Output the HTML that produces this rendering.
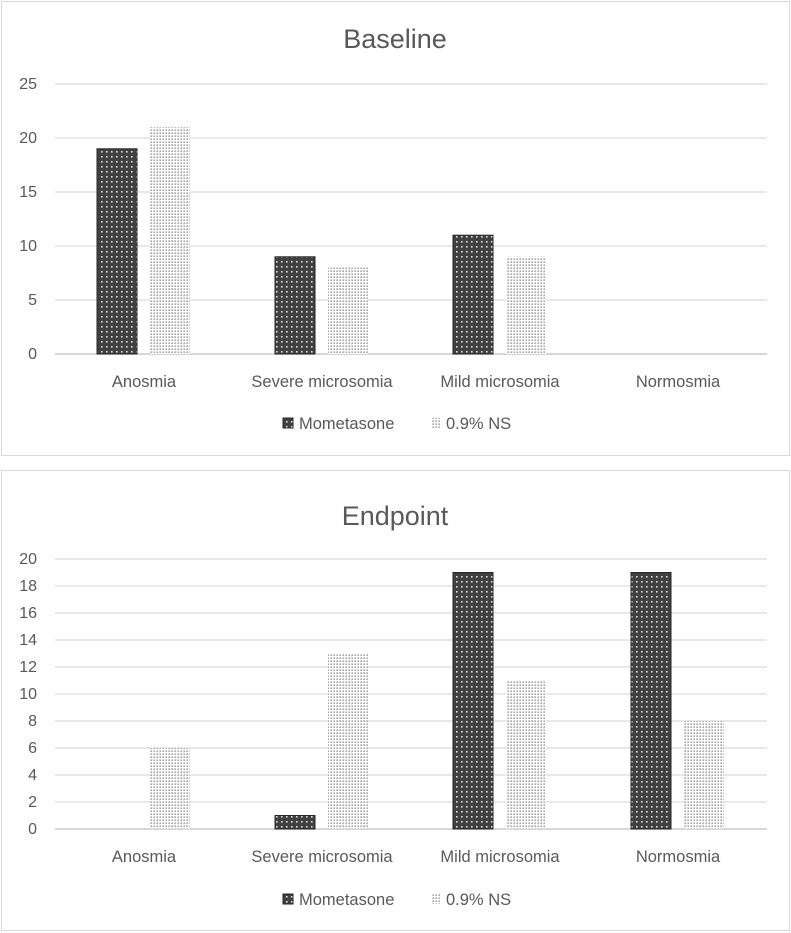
<!DOCTYPE html>
<html><head><meta charset="utf-8"><style>
body{margin:0;background:#fff;}
svg{display:block;font-family:"Liberation Sans",sans-serif;}
</style></head><body>
<svg id="s" width="791" height="933">
<defs>
<pattern id="pm" width="5" height="5" patternUnits="userSpaceOnUse"><rect width="5" height="5" fill="#404040"/><rect x="1" y="1" width="1.6" height="1.6" fill="#e0e0e0"/></pattern>
<pattern id="pn" width="3" height="3" patternUnits="userSpaceOnUse"><rect width="3" height="3" fill="#fff"/><rect x="0.5" y="0.5" width="1.3" height="1.3" fill="#777"/></pattern>
</defs>
</svg>
<script>
const categories=["Anosmia","Severe microsomia","Mild microsomia","Normosmia"];
const baseMom=[19,9,11,0];
const baseNS=[21,8,9,0];
const endMom=[0,1,19,19];
const endNS=[6,13,11,8];
const baseTicks=[0,5,10,15,20,25];
const endTicks=[0,2,4,6,8,10,12,14,16,18,20];
const NS="http://www.w3.org/2000/svg";
const svg=document.getElementById('s');
function mk(tag,attrs,parent){const e=document.createElementNS(NS,tag);for(const k in attrs)e.setAttribute(k,attrs[k]);(parent||svg).appendChild(e);return e;}
function chart(cfg){
  const g=mk('g',{});
  
  
  const box=mk('rect',{x:1.5,y:cfg.top+0.5,width:788,height:cfg.h,fill:'#fff',stroke:'#d9d9d9'},g);
  
  
  const t=mk('text',{x:395,y:cfg.titleY,'text-anchor':'middle','font-size':27,fill:'#595959'},g);t.textContent=cfg.title;
  
  
  const x0=55,x1=767,max=cfg.ticks[cfg.ticks.length-1];
  const y=v=>cfg.y0-(cfg.y0-cfg.yTop)*v/max;
  cfg.ticks.forEach(v=>{
    const l=mk('line',{x1:x0,x2:x1,y1:y(v),y2:y(v),stroke:v===0?'#bfbfbf':'#d9d9d9','stroke-width':1.3},g);
    
    
    const tx=mk('text',{x:cfg.labX,y:y(v)+5,'text-anchor':'end','font-size':16,fill:'#595959'},g);tx.textContent=v;
    
    
  });
  const cw=(x1-x0)/categories.length;
  categories.forEach((c,i)=>{
    const cx=x0+cw*(i+0.5);
    [[cfg.mom,'url(#pm)','#262626',cx-47],[cfg.ns,'url(#pn)','none',cx+6]].forEach((s,k)=>{
      const v=s[0][i];
      if(v>0){
        const r=mk('rect',{x:s[3],y:y(v),width:40,height:y(0)-y(v),fill:s[1],stroke:s[2],'stroke-width':1},g);
        
        
      }
    });
    const lt=mk('text',{x:cx,y:cfg.y0+33,'text-anchor':'middle','font-size':16.5,fill:'#595959'},g);lt.textContent=c;
    
    
  });
  const ly=cfg.legY;
  const s1=mk('rect',{x:283,y:ly-5,width:10,height:10,fill:'url(#pm)',stroke:'#262626'},g);
  
  
  const t1=mk('text',{x:299,y:ly+6,'font-size':16.5,fill:'#595959'},g);t1.textContent='Mometasone';
  
  
  const s2=mk('rect',{x:431,y:ly-5,width:9,height:10,fill:'url(#pn)'},g);
  
  
  const t2=mk('text',{x:446,y:ly+6,'font-size':16.5,fill:'#595959'},g);t2.textContent='0.9% NS';
  
  
}
chart({name:'baseline-chart',title:'Baseline',top:1,h:454,titleY:48,y0:354,yTop:84,ticks:baseTicks,mom:baseMom,ns:baseNS,labX:37,legY:423});
chart({name:'endpoint-chart',title:'Endpoint',top:470,h:460,titleY:525,y0:829,yTop:559,ticks:endTicks,mom:endMom,ns:endNS,labX:37,legY:899});
</script>
</body></html>
